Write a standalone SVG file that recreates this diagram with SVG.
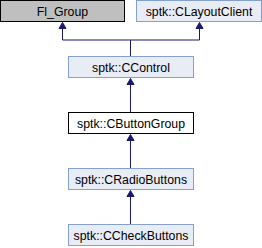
<svg xmlns="http://www.w3.org/2000/svg" width="262" height="248" viewBox="0 0 262 248">
<style>
.n rect{stroke-width:1}
.gray rect{fill:#bfbfbf;stroke:#000}
.blue rect{fill:#e8ecf5;stroke:#84a0d0}
.white rect{fill:#fff;stroke:#000}
text{font-family:"Liberation Sans",Arial,sans-serif;font-size:12.3px;fill:#000;text-anchor:middle}
.e path{fill:none;stroke:#191970;stroke-width:1}
</style>
<defs>
<marker id="arr" markerUnits="userSpaceOnUse" markerWidth="7" markerHeight="8" refX="0" refY="3.5" orient="auto" overflow="visible">
<path d="M0,0 L6,3.5 L0,7 z" fill="#191970" stroke="#191970" stroke-width="1"/>
</marker>
</defs>
<g id="connectors" class="e">
<path d="M130.5,56 V40 H62.5 V28.5" marker-end="url(#arr)"/>
<path d="M130.5,56 V40 H199.5 V28.5" marker-end="url(#arr)"/>
<path d="M130.5,112 V84.5" marker-end="url(#arr)"/>
<path d="M130.5,168 V140.5" marker-end="url(#arr)"/>
<path d="M130.5,224 V196.5" marker-end="url(#arr)"/>
</g>
<g id="Fl_Group" class="n gray"><rect x="0.5" y="0.5" width="124" height="21"/><text x="62.5" y="15.5">Fl_Group</text></g>
<g id="CLayoutClient" class="n blue"><rect x="136.5" y="0.5" width="125" height="21"/><text x="199" y="15.5">sptk::CLayoutClient</text></g>
<g id="CControl" class="n blue"><rect x="68.5" y="56.5" width="125" height="21"/><text x="131" y="71.5">sptk::CControl</text></g>
<g id="CButtonGroup" class="n white"><rect x="68.5" y="112.5" width="125" height="21"/><text x="131" y="127.5">sptk::CButtonGroup</text></g>
<g id="CRadioButtons" class="n blue"><rect x="68.5" y="168.5" width="125" height="21"/><text x="131" y="183.5">sptk::CRadioButtons</text></g>
<g id="CCheckButtons" class="n blue"><rect x="68.5" y="224.5" width="125" height="21"/><text x="131" y="239.5">sptk::CCheckButtons</text></g>
</svg>
